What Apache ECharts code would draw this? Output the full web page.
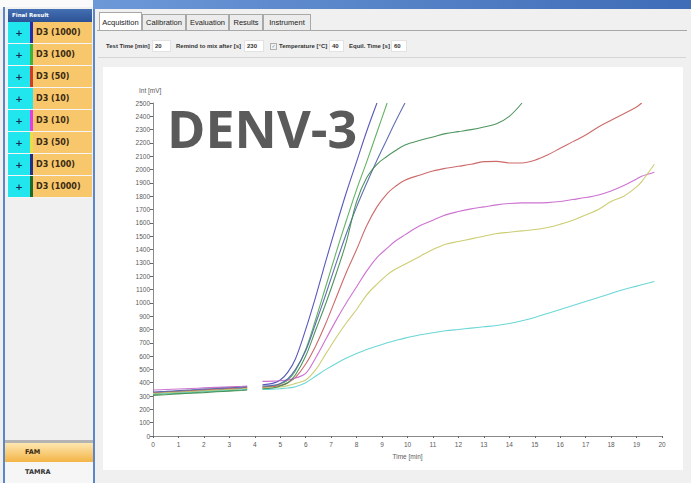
<!DOCTYPE html>
<html><head><meta charset="utf-8">
<script src="https://cdn.jsdelivr.net/npm/echarts/dist/echarts.min.js"></script>
<style>
html,body{margin:0;padding:0;width:691px;height:483px;overflow:hidden;background:#f0f0f0;font-family:"Liberation Sans",Arial,sans-serif;}
.a{position:absolute;box-sizing:border-box;}
.row{position:absolute;left:8px;width:84px;height:22px;border-bottom:1px solid rgba(255,255,255,0.35);box-sizing:border-box;}
.plus{position:absolute;left:0;top:0;width:22px;height:100%;background:#22e6ee;color:#1a2a50;font:bold 9px "DejaVu Sans";display:flex;align-items:center;justify-content:center;}
.stripe{position:absolute;left:22px;top:0;width:3px;height:100%;}
.lab{position:absolute;left:25px;top:0;right:0;height:100%;background:#f8c76c;color:#3a2a12;font:bold 8px "DejaVu Sans";display:flex;align-items:center;padding-left:3px;box-sizing:border-box;}
.tab{position:absolute;top:14px;height:16px;border:1px solid #a8a8a8;border-bottom:none;background:#ececec;font-size:7.5px;color:#222;display:flex;align-items:center;justify-content:center;box-sizing:border-box;}
.pl{position:absolute;top:41px;height:10px;font:bold 6px "Liberation Sans";color:#333;line-height:10px;white-space:nowrap;}
.box{position:absolute;top:40px;height:12px;background:#fff;border:1px solid #e2e2e2;font:bold 6px "Liberation Sans";color:#333;line-height:10px;padding-left:2px;box-sizing:border-box;}
#chart{position:absolute;left:0;top:0;width:691px;height:483px;z-index:5;}
</style></head>
<body>
<div class="a" style="left:0;top:0;width:95px;height:9px;background:#fafafa;"></div>
<div class="a" style="left:3px;top:7px;width:92px;height:476px;border-left:2px solid #5b86c8;border-right:2px solid #5b86c8;background:#f0f0f0;"></div>
<div class="a" style="left:8px;top:9px;width:84px;height:13px;background:linear-gradient(#4470b4,#2c5294);color:#fff;font:bold 5.5px 'DejaVu Sans';line-height:13px;padding-left:4px;">Final Result</div>
<div id="rows"></div>
<div class="a" style="left:5px;top:440px;width:88px;height:3px;background:#b4b4b4;"></div>
<div class="a" style="left:5px;top:443px;width:88px;height:19px;background:linear-gradient(#fde7b0,#f4b446);font:bold 6.5px 'DejaVu Sans';color:#3a2a12;line-height:19px;padding-left:20px;">FAM</div>
<div class="a" style="left:5px;top:462px;width:88px;height:21px;background:#f6f6f6;font:bold 6.5px 'DejaVu Sans';color:#333;line-height:21px;padding-left:20px;">TAMRA</div>

<div class="a" style="left:93px;top:0;width:598px;height:9px;background:linear-gradient(90deg,#6d98d8,#3e6cb6);"></div>
<div class="a" style="left:95px;top:9px;width:596px;height:474px;background:#f0f0f0;"></div>
<div class="tab" style="left:99px;top:12px;height:19px;width:43px;background:#fff;">Acquisition</div>
<div class="tab" style="left:142px;width:44px;">Calibration</div>
<div class="tab" style="left:186px;width:43px;">Evaluation</div>
<div class="tab" style="left:229px;width:34px;">Results</div>
<div class="tab" style="left:263px;width:48px;">Instrument</div>
<div class="a" style="left:97px;top:30px;width:590px;height:1px;background:#a8a8a8;"></div>
<div class="pl" style="left:106px;">Test Time [min]</div>
<div class="box" style="left:152px;width:19px;">20</div>
<div class="pl" style="left:176px;">Remind to mix after [s]</div>
<div class="box" style="left:244px;width:20px;">230</div>
<div class="a" style="left:270px;top:43px;width:7px;height:7px;border:1px solid #b0b0b0;background:#eef2f8;font:5px 'DejaVu Sans';color:#8090a8;line-height:5px;text-align:center;">&#10003;</div>
<div class="pl" style="left:279px;">Temperature [°C]</div>
<div class="box" style="left:329px;width:15px;">40</div>
<div class="pl" style="left:349px;">Equil. Time [s]</div>
<div class="box" style="left:391px;width:16px;">60</div>
<div class="a" style="left:98px;top:57px;width:588px;height:1px;background:#d6d6d6;"></div>
<div class="a" style="left:103px;top:67px;width:580px;height:403px;background:#fff;"></div>
<div id="chart"></div>
<script>
// ---- data ----
const seriesNames = ['D3 (1000)','D3 (100)','D3 (50)','D3 (10)','D3 (10)','D3 (50)','D3 (100)','D3 (1000)'];
const stripeColors = ['#2b2bb0','#3cb43c','#d23a2a','#22e6ee','#e23ee6','#e6e046','#22308a','#1e6a2a'];
const lineColors = ['#4646b4','#52aa52','#c85a5a','#5cd2d2','#c864cc','#c8c864','#5060a8','#3c8a4c'];
// time points [min]
const T = [0,0.5,1,1.5,2,2.5,3,3.5,3.7,4.0,4.3,4.7,5.0,5.3,5.6,6.0,6.4,6.8,7.2,7.6,8.0,8.4,8.8,9.2,9.5,9.9,10.5,11,11.5,12,12.5,13,13.5,14,14.5,15,15.5,16,16.5,17,17.5,18,18.5,19,19.2,19.7];
// values [mV]
const v1000a = [320,325,331,336,342,347,353,358,360,null,385,395,420,480,580,800,1050,1320,1580,1830,2060,2290,2500];
const v100a  = [310,315,321,326,332,337,342,347,350,null,370,375,390,420,490,650,880,1130,1380,1620,1850,2060,2280,2500];
const v50a   = [325,330,336,341,346,352,357,362,365,null,365,370,380,400,440,540,680,850,1040,1230,1400,1580,1720,1820,1870,1920,1960,1990,2010,2025,2040,2060,2062,2050,2050,2070,2110,2160,2210,2260,2320,2370,2420,2470,2500];
const v10a   = [315,320,324,329,334,339,343,348,350,null,350,352,355,360,370,400,450,500,545,585,620,650,675,700,715,735,760,775,790,800,810,820,830,845,865,890,920,950,980,1010,1040,1070,1100,1125,1135,1160];
const v10b   = [345,349,353,357,361,365,369,373,375,null,410,412,415,420,435,470,590,730,870,1000,1120,1240,1340,1410,1460,1510,1580,1620,1660,1685,1705,1720,1735,1745,1750,1750,1752,1760,1775,1790,1810,1840,1880,1930,1950,1980];
const v50b   = [320,325,330,335,340,345,350,355,358,null,360,362,368,378,395,420,500,620,740,850,950,1060,1140,1210,1250,1290,1350,1400,1440,1460,1480,1500,1520,1530,1540,1550,1565,1590,1620,1660,1700,1760,1800,1870,1910,2040];
const v100b  = [330,335,341,346,352,357,362,367,370,null,375,380,395,430,500,640,850,1070,1300,1520,1720,1900,2070,2230,2350,2500];
const v1000b = [305,310,316,321,326,332,337,342,345,null,355,360,375,400,460,600,800,1000,1220,1460,1760,1940,2040,2100,2140,2185,2220,2245,2270,2285,2300,2320,2345,2400,2500];
const allValues = [v1000a,v100a,v50a,v10a,v10b,v50b,v100b,v1000b];
const yTicks = {min:0,max:2500,interval:100};
const xTicks = {min:0,max:20,interval:1};
const chartTitle = 'DENV-3';

// ---- left result list ----
const rowsEl = document.getElementById('rows');
seriesNames.forEach((n,i)=>{
  const r = document.createElement('div');
  r.className='row';
  r.style.top = (22 + i*22)+'px';
  r.innerHTML = '<div class="plus">+</div><div class="stripe" style="background:'+stripeColors[i]+'"></div><div class="lab">'+n+'</div>';
  rowsEl.appendChild(r);
});

// ---- chart ----
const chart = echarts.init(document.getElementById('chart'), null, {renderer:'svg'});
const labelStyle = {fontFamily:'Liberation Sans', fontSize:6.5, color:'#5a5a5a'};
chart.setOption({
  backgroundColor:'transparent',
  animation:false,
  grid:{left:153,right:29,top:103,bottom:47},
  graphic:[
    {type:'text', left:167, top:101, style:{text:chartTitle, font:'bold 52px "Open Sans"', fill:'#5a5a5a'}},
    {type:'text', left:139, top:87, style:{text:'Int [mV]', font:'6.5px "Liberation Sans"', fill:'#5a5a5a'}}
  ],
  xAxis:{type:'value', min:xTicks.min, max:xTicks.max, interval:xTicks.interval,
    name:'Time [min]', nameLocation:'middle', nameGap:16, nameTextStyle:labelStyle,
    axisLine:{lineStyle:{color:'#8a8a8a',width:1}}, axisTick:{length:2,lineStyle:{color:'#666'}},
    axisLabel:Object.assign({margin:5, formatter:v=>String(v)},labelStyle), splitLine:{show:false}},
  yAxis:{type:'value', min:yTicks.min, max:yTicks.max, interval:yTicks.interval,
    axisLine:{show:true,lineStyle:{color:'#8a8a8a',width:1}}, axisTick:{show:true,length:3,lineStyle:{color:'#666'}},
    axisLabel:Object.assign({margin:3, formatter:v=>String(v)},labelStyle), splitLine:{show:false}},
  series: allValues.map((vals,i)=>({
    name:seriesNames[i], type:'line', showSymbol:false, smooth:0.35, connectNulls:false,
    lineStyle:{width:1.1,color:lineColors[i],opacity:0.9}, itemStyle:{color:lineColors[i]},
    data: vals.map((v,k)=>[T[k], v])
  }))
});
</script>
</body></html>
